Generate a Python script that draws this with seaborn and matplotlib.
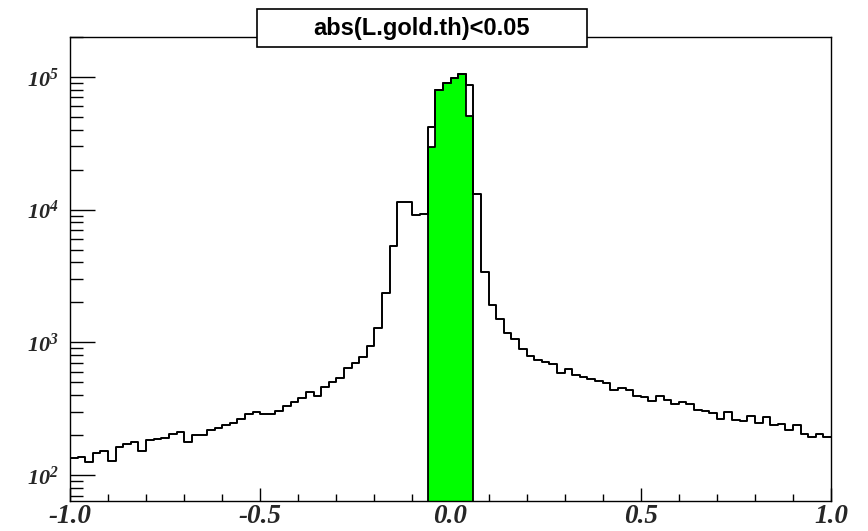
import numpy as np
import pandas as pd
import seaborn as sns
import matplotlib
matplotlib.use("Agg")
from matplotlib import pyplot as plt
from matplotlib.patches import Rectangle
from matplotlib.ticker import MultipleLocator, LogLocator, NullFormatter

title = "abs(L.gold.th)<0.05"

# bin centres of the 100 bins between -1 and 1
th_centers = np.round(np.arange(-0.99, 1.0, 0.02), 2)
all_counts = [
    134, 137, 125, 147, 152, 128, 164, 171, 177, 153,
    183, 187, 191, 205, 210, 178, 199, 199, 217, 228,
    237, 248, 266, 287, 299, 290, 290, 306, 330, 356,
    379, 425, 394, 461, 503, 542, 645, 703, 772, 940,
    1285, 2335, 5275, 11460, 11330, 9100, 9310, 41700, 79300, 90600,
    98300, 105900, 86400, 13180, 3360, 1915, 1503, 1172, 1060, 888,
    790, 742, 708, 691, 592, 634, 568, 552, 533, 509,
    494, 438, 456, 438, 394, 388, 364, 397, 368, 342,
    354, 343, 308, 302, 294, 266, 297, 260, 254, 280,
    248, 274, 238, 244, 218, 238, 204, 195, 204, 195,
]
cut_centers = [-0.05, -0.03, -0.01, 0.01, 0.03, 0.05]
cut_counts = [29400, 79300, 90600, 98300, 105900, 51000]

x_ticks = [-1.0, -0.5, 0.0, 0.5, 1.0]
y_ticks = [1e2, 1e3, 1e4, 1e5]
y_labels = [r"$\mathbf{10^{2}}$", r"$\mathbf{10^{3}}$", r"$\mathbf{10^{4}}$", r"$\mathbf{10^{5}}$"]

sns.set_style("white")
plt.rcParams["mathtext.fontset"] = "custom"
plt.rcParams["mathtext.bf"] = "Liberation Serif:bold:italic"
plt.rcParams["axes.unicode_minus"] = False
plt.rcParams["text.color"] = "black"

fig = plt.figure(figsize=(8.68, 5.31), dpi=100)
ax = fig.add_axes([70 / 868, 1 - 501 / 531, 761 / 868, 464 / 531])
# clip (not mask) zero baselines so the filled histogram reaches the bottom
ax.set_yscale("log", nonpositive="clip")

full = pd.DataFrame({"th": th_centers, "n": all_counts})
cut = pd.DataFrame({"th": cut_centers, "n": cut_counts})

sns.histplot(full, x="th", weights="n", bins=100, binrange=(-1, 1),
             element="step", fill=False, color="black", linewidth=1.4, ax=ax)
sns.histplot(cut, x="th", weights="n", bins=6, binrange=(-0.06, 0.06),
             element="step", fill=True, color="#00ff00", edgecolor="black",
             alpha=1, linewidth=1.3, ax=ax)
ax.set_yscale("log", nonpositive="clip")

ax.set_xlim(-1, 1)
ax.set_ylim(63.7, 2.0e5)
ax.set_xlabel("")
ax.set_ylabel("")

ax.set_xticks(x_ticks)
ax.set_xticklabels([f"{v:.1f}" for v in x_ticks], fontfamily="Liberation Serif",
                   fontweight="bold", fontstyle="italic", fontsize=19.5)
ax.xaxis.set_minor_locator(MultipleLocator(0.1))
ax.set_yticks(y_ticks)
ax.set_yticklabels(y_labels, fontsize=16)
ax.yaxis.set_minor_locator(LogLocator(base=10, subs=np.arange(2, 10)))
ax.yaxis.set_minor_formatter(NullFormatter())

ax.tick_params(bottom=True, left=True, top=False, right=False, which="both")
ax.tick_params(axis="x", which="major", direction="in", length=9.4, width=1, pad=2, color="black")
ax.tick_params(axis="x", which="minor", direction="in", length=5, width=1, color="black")
ax.tick_params(axis="y", which="major", direction="in", length=18, width=1, pad=8, color="black")
ax.tick_params(axis="y", which="minor", direction="in", length=9.4, width=1, color="black")
for s in ax.spines.values():
    s.set_color("black")
    s.set_linewidth(1)

# title box over the frame, ROOT style
fig.patches.append(Rectangle((257.3 / 868, 1 - 46.7 / 531), 329.4 / 868, 37.4 / 531,
                             transform=fig.transFigure, facecolor="white",
                             edgecolor="black", linewidth=1.2, zorder=2))
fig.text(422 / 868, 1 - 28 / 531, title, ha="center", va="center", color="black",
         fontfamily="Liberation Sans", fontweight="bold", fontsize=17, zorder=3)

plt.savefig("out.png", dpi=100)
